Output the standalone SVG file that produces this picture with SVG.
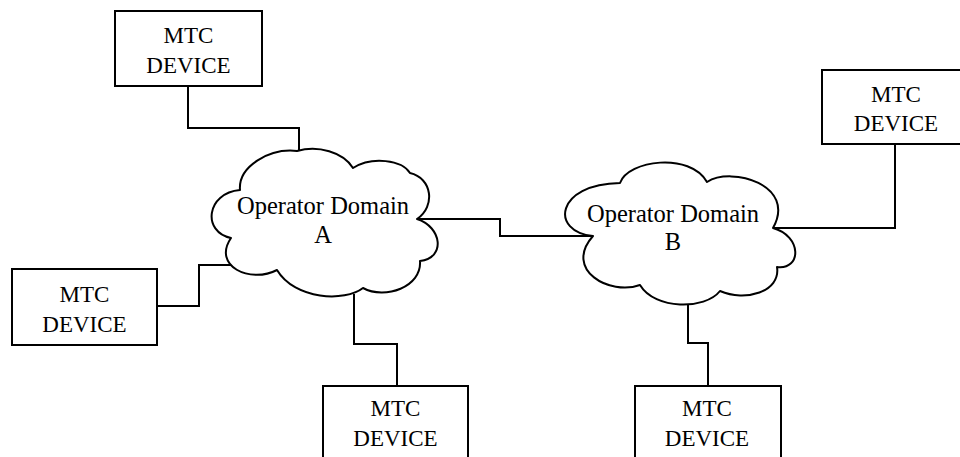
<svg xmlns="http://www.w3.org/2000/svg" width="960" height="457" viewBox="0 0 960 457">
<style>
.box{fill:#fff;stroke:#000;stroke-width:2}
.cloud{fill:#fff;stroke:#000;stroke-width:2;stroke-linejoin:round}
.conn{fill:none;stroke:#000;stroke-width:2}
.t{font-family:"Liberation Serif","Times New Roman",serif;font-size:23px;fill:#000;text-anchor:middle}
.tc{font-family:"Liberation Serif","Times New Roman",serif;font-size:24.5px;fill:#000;text-anchor:middle}
</style>
<rect width="960" height="457" fill="#fff"/>
<g id="connectors">
<polyline class="conn" points="188,86 188,128 299,128 299,151"/>
<polyline class="conn" points="157,306 199,306 199,265 231,265"/>
<polyline class="conn" points="354,294 354,344 397,344 397,386"/>
<polyline class="conn" points="417,219 500,219 500,236 593,236"/>
<polyline class="conn" points="773,228 895,228 895,144"/>
<polyline class="conn" points="688,302 688,343 708,343 708,386"/>
</g>
<g id="cloudA">
<path class="cloud" d="M 240,190 C 238,166 270,148 297,151 C 318,145 343,152 353,168 C 372,156 402,160 410,173 C 432,178 436,206 417,219 C 442,227 446,258 420,261 C 422,287 385,300 363,288 C 345,302 295,300 277,270 C 250,284 212,266 231,238 C 202,232 206,193 240,190 Z"/>
<text class="tc" x="323" y="214">Operator Domain</text>
<text class="tc" x="323" y="243">A</text>
</g>
<g id="cloudB">
<path class="cloud" d="M 620,183 C 628,160 690,152 707,182 C 732,166 797,185 773,228 C 802,236 802,270 777,267 C 781,292 745,302 720,291 C 705,310 655,310 640,285 C 610,296 563,270 593,236 C 550,232 555,184 620,183 Z"/>
<text class="tc" x="673" y="222">Operator Domain</text>
<text class="tc" x="673" y="250">B</text>
</g>
<g id="deviceTop">
<rect class="box" x="115" y="11" width="147" height="75"/>
<text class="t" x="188.5" y="43">MTC</text>
<text class="t" x="188.5" y="73">DEVICE</text>
</g>
<g id="deviceRight">
<rect class="box" x="822" y="70" width="150" height="74"/>
<text class="t" x="896" y="102">MTC</text>
<text class="t" x="896" y="131">DEVICE</text>
</g>
<g id="deviceLeft">
<rect class="box" x="12" y="269" width="145" height="76"/>
<text class="t" x="84.5" y="302">MTC</text>
<text class="t" x="84.5" y="332">DEVICE</text>
</g>
<g id="deviceBottomA">
<rect class="box" x="323" y="386" width="145" height="90"/>
<text class="t" x="395.5" y="416">MTC</text>
<text class="t" x="395.5" y="446">DEVICE</text>
</g>
<g id="deviceBottomB">
<rect class="box" x="635" y="386" width="146" height="90"/>
<text class="t" x="707" y="416">MTC</text>
<text class="t" x="707" y="446">DEVICE</text>
</g>
</svg>
